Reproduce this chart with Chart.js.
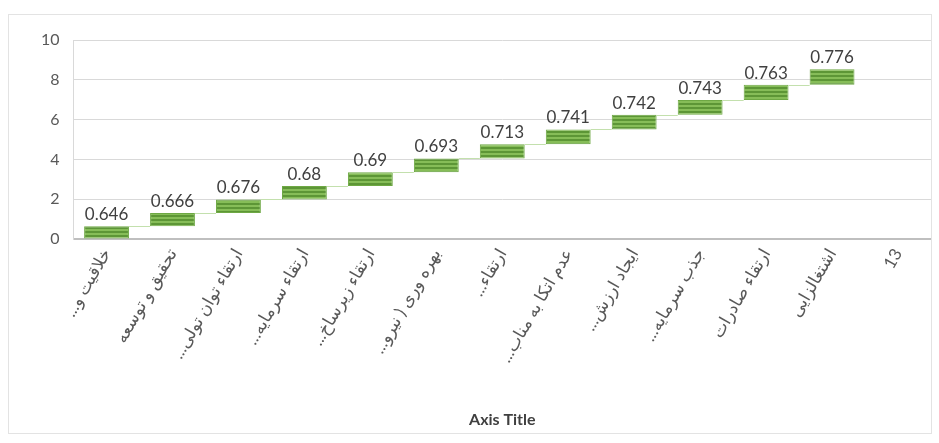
<!DOCTYPE html>
<html>
<head>
<meta charset="utf-8">
<script src="https://cdn.jsdelivr.net/npm/chart.js@4"></script>
<style>
  body { margin: 0; background: #fff; }
  #wrap { position: absolute; left: 8px; top: 14px; width: 922px; height: 418px; border: 1px solid #e3e3e3; }
</style>
</head>
<body>
<div id="wrap"><canvas id="chart"></canvas></div>
<script>
const categories = [
  "خلاقیت و...", "تحقیق و توسعه", "ارتقاء توان تولی...", "ارتقاء سرمایه...",
  "ارتقاء زیرساخ...", "بهره وری ( نیرو...", "ارتقاء...", "عدم اتکا به مناب...",
  "ایجاد ارزش...", "جذب سرمایه...", "ارتقاء صادرات", "اشتغالزایی", "13"
];
const values = [0.646, 0.666, 0.676, 0.68, 0.69, 0.693, 0.713, 0.741, 0.742, 0.743, 0.763, 0.776];
const bases = [0, 0.646, 1.312, 1.988, 2.668, 3.358, 4.051, 4.764, 5.505, 6.247, 6.99, 7.753];
const yTicks = [0, 2, 4, 6, 8, 10];

// barres flottantes [début, fin]
const floating = values.map((v, i) => [bases[i], bases[i] + v]);

function stripes() {
  const c = document.createElement("canvas");
  c.width = 4;
  c.height = 4;
  const ctx = c.getContext("2d");
  ctx.fillStyle = "#86bd58";
  ctx.fillRect(0, 0, 4, 4);
  ctx.fillStyle = "#5d9636";
  ctx.fillRect(0, 0, 4, 2);
  return ctx.createPattern(c, "repeat");
}

const labelsPlugin = {
  id: "waterfallLabels",
  afterDatasetsDraw(chart) {
    const ctx = chart.ctx;
    const meta = chart.getDatasetMeta(0);
    const y = chart.scales.y;
    ctx.save();

    // connecteurs
    ctx.strokeStyle = "#c3e0ad";
    ctx.lineWidth = 1;
    for (let i = 0; i < meta.data.length - 1; i++) {
      const bar = meta.data[i];
      const next = meta.data[i + 1];
      const top = Math.round(y.getPixelForValue(floating[i][1])) + 0.5;
      ctx.beginPath();
      ctx.moveTo(bar.x + bar.width / 2, top);
      ctx.lineTo(next.x - next.width / 2, top);
      ctx.stroke();
    }

    ctx.fillStyle = "#404040";
    ctx.font = "17px Lato, 'DejaVu Sans'";
    ctx.textAlign = "center";
    ctx.textBaseline = "bottom";
    meta.data.forEach((bar, i) => {
      const top = y.getPixelForValue(floating[i][1]);
      ctx.fillText(String(values[i]), bar.x, top - 3);
    });
    ctx.restore();
  },
};

new Chart(document.getElementById("chart"), {
  type: "bar",
  data: {
    labels: categories.map((c) => c + "\u200F"),
    datasets: [
      {
        data: floating,
        backgroundColor: stripes(),
        borderColor: "#6ea844",
        borderWidth: 1,
        borderSkipped: false,
        barPercentage: 0.68,
        categoryPercentage: 1,
      },
    ],
  },
  options: {
    responsive: true,
    maintainAspectRatio: false,
    animation: false,
    layout: { padding: { left: 18, right: 0, top: 25, bottom: 4 } },
    plugins: {
      legend: { display: false },
      tooltip: { enabled: false },
    },
    scales: {
      x: {
        grid: { display: false, drawTicks: false },
        border: { color: "#bfbfbf", width: 2 },
        afterFit: (axis) => {
          axis.height = 190;
        },
        ticks: {
          color: "#595959",
          font: { size: 17, family: "Lato, 'DejaVu Sans'" },
          minRotation: 60,
          maxRotation: 60,
          autoSkip: false,
          padding: 6,
        },
        title: {
          display: true,
          text: "Axis Title",
          color: "#404040",
          font: { size: 16, weight: "bold", family: "Lato, 'DejaVu Sans'" },
          padding: { top: 6, bottom: 0 },
        },
      },
      y: {
        min: 0,
        max: 10,
        afterBuildTicks: (axis) => {
          axis.ticks = yTicks.map((v) => ({ value: v }));
        },
        grid: { color: "#d9d9d9", drawTicks: false },
        border: { display: true, color: "#d9d9d9" },
        ticks: {
          color: "#595959",
          font: { size: 16, family: "Lato, 'DejaVu Sans'" },
          padding: 14,
        },
      },
    },
  },
  plugins: [labelsPlugin],
});
</script>
</body>
</html>
